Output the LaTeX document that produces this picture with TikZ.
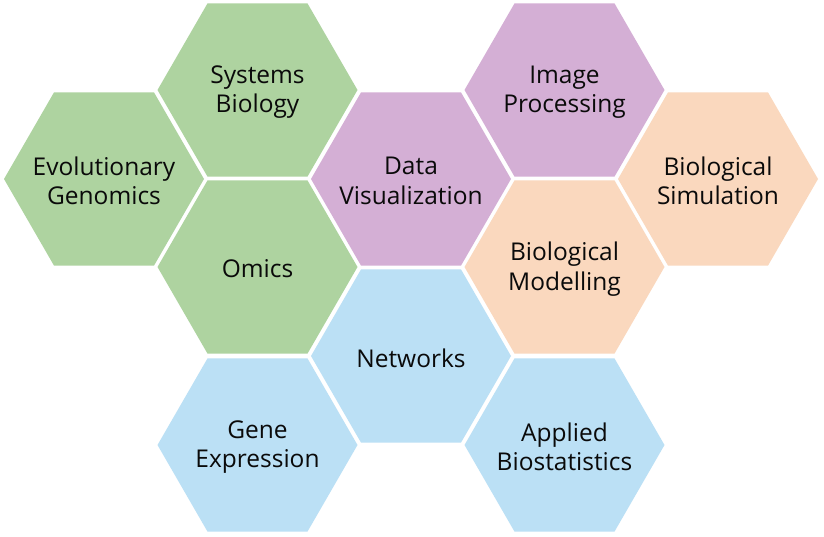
\documentclass[tikz,border=0pt]{standalone}
\usepackage{fontspec}
\setmainfont{Open Sans}
\definecolor{hgreen}{RGB}{174,211,160}
\definecolor{hpurple}{RGB}{212,175,213}
\definecolor{hpeach}{RGB}{250,216,190}
\definecolor{hblue}{RGB}{187,224,245}
\definecolor{htext}{RGB}{10,10,10}
\newcommand{\hexcell}[5]{%
  \fill[#4] (#2,#3) ++(-100,0) -- ++(50,86.6) -- ++(100,0) -- ++(50,-86.6) -- ++(-50,-86.6) -- ++(-100,0) -- cycle;
  \node[hexlabel] (#1) at (#2,#3) {#5};}
\begin{document}
\begin{tikzpicture}[x=1pt,y=-1pt,
  hexlabel/.style={align=center,text=htext,inner sep=0pt,yshift=-2pt,
    font=\fontsize{24.5}{29.5}\selectfont}]
\useasboundingbox (0,0) rectangle (824,537);
\fill[white] (0,0) rectangle (824,537);
\hexcell{evo}{104}{179}{hgreen}{Evolutionary\\Genomics}
\hexcell{sys}{257.5}{90}{hgreen}{Systems\\Biology}
\hexcell{omics}{257.5}{267}{hgreen}{Omics}
\hexcell{gene}{257.5}{445}{hblue}{Gene\\Expression}
\hexcell{dv}{411}{179}{hpurple}{Data\\Visualization}
\hexcell{net}{411}{356}{hblue}{Networks}
\hexcell{img}{564.5}{90}{hpurple}{Image\\Processing}
\hexcell{mod}{564.5}{267}{hpeach}{Biological\\Modelling}
\hexcell{stat}{564.5}{445}{hblue}{Applied\\Biostatistics}
\hexcell{sim}{718}{179}{hpeach}{Biological\\Simulation}
\end{tikzpicture}
\end{document}
